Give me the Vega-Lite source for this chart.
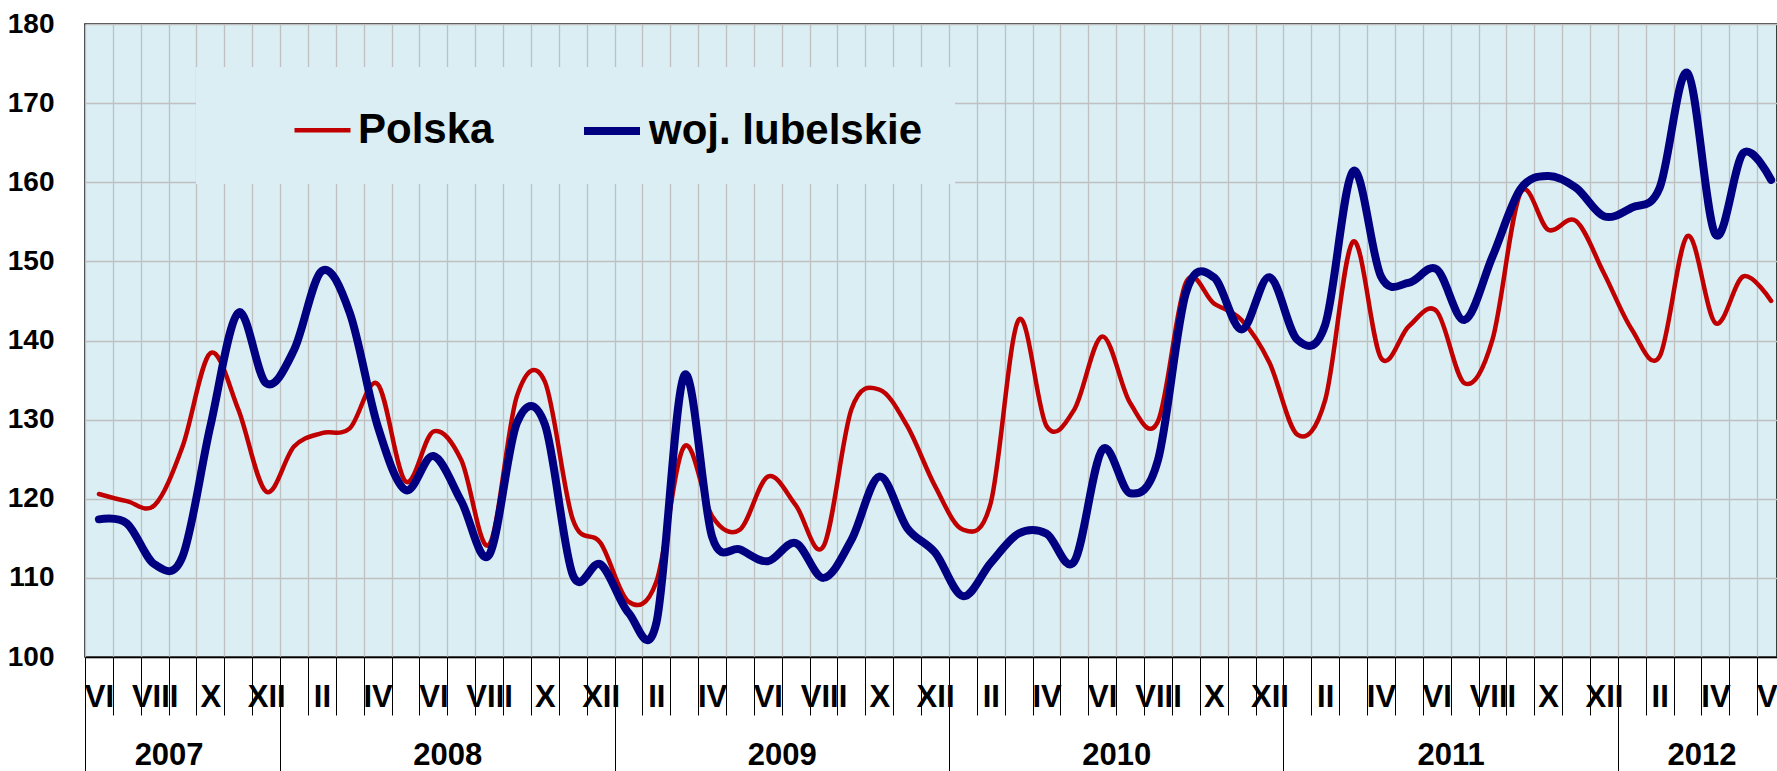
{
  "$schema": "https://vega.github.io/schema/vega-lite/v6.json",
  "width": 1692,
  "height": 633,
  "autosize": "none",
  "padding": {"left": 85, "top": 24, "right": 0, "bottom": 114},
  "background": "#FFFFFF",
  "config": {
    "view": {"fill": "#DAEEF3", "stroke": "#000000", "strokeWidth": 1.5},
    "font": "Liberation Sans"
  },
  "data": {
    "values": [
      {"i":0,"s":"Polska","v":120.6},{"i":1,"s":"Polska","v":119.7},{"i":2,"s":"Polska","v":119.2},{"i":3,"s":"Polska","v":126.6},{"i":4,"s":"Polska","v":138.4},{"i":5,"s":"Polska","v":131.3},{"i":6,"s":"Polska","v":120.9},{"i":7,"s":"Polska","v":126.6},{"i":8,"s":"Polska","v":128.3},{"i":9,"s":"Polska","v":128.9},
      {"i":10,"s":"Polska","v":134.5},{"i":11,"s":"Polska","v":122.2},{"i":12,"s":"Polska","v":128.5},{"i":13,"s":"Polska","v":124.9},{"i":14,"s":"Polska","v":114.2},{"i":15,"s":"Polska","v":133.0},{"i":16,"s":"Polska","v":134.8},{"i":17,"s":"Polska","v":117.4},{"i":18,"s":"Polska","v":114.4},{"i":19,"s":"Polska","v":107.0},
      {"i":20,"s":"Polska","v":109.5},{"i":21,"s":"Polska","v":126.6},{"i":22,"s":"Polska","v":117.8},{"i":23,"s":"Polska","v":116.1},{"i":24,"s":"Polska","v":122.8},{"i":25,"s":"Polska","v":119.2},{"i":26,"s":"Polska","v":114.0},{"i":27,"s":"Polska","v":131.3},{"i":28,"s":"Polska","v":133.8},{"i":29,"s":"Polska","v":129.2},
      {"i":30,"s":"Polska","v":121.6},{"i":31,"s":"Polska","v":116.1},{"i":32,"s":"Polska","v":119.5},{"i":33,"s":"Polska","v":142.6},{"i":34,"s":"Polska","v":129.2},{"i":35,"s":"Polska","v":131.3},{"i":36,"s":"Polska","v":140.5},{"i":37,"s":"Polska","v":132.1},{"i":38,"s":"Polska","v":129.8},{"i":39,"s":"Polska","v":147.3},
      {"i":40,"s":"Polska","v":144.7},{"i":41,"s":"Polska","v":142.6},{"i":42,"s":"Polska","v":137.2},{"i":43,"s":"Polska","v":128.1},{"i":44,"s":"Polska","v":132.5},{"i":45,"s":"Polska","v":152.5},{"i":46,"s":"Polska","v":137.8},{"i":47,"s":"Polska","v":141.8},{"i":48,"s":"Polska","v":143.7},{"i":49,"s":"Polska","v":134.6},
      {"i":50,"s":"Polska","v":140.1},{"i":51,"s":"Polska","v":158.6},{"i":52,"s":"Polska","v":154.0},{"i":53,"s":"Polska","v":155.1},{"i":54,"s":"Polska","v":148.5},{"i":55,"s":"Polska","v":141.4},{"i":56,"s":"Polska","v":138.0},{"i":57,"s":"Polska","v":153.2},{"i":58,"s":"Polska","v":142.2},{"i":59,"s":"Polska","v":148.1},
      {"i":60,"s":"Polska","v":145.0},
      {"i":0,"s":"woj. lubelskie","v":117.4},{"i":1,"s":"woj. lubelskie","v":116.9},{"i":2,"s":"woj. lubelskie","v":111.7},{"i":3,"s":"woj. lubelskie","v":112.7},{"i":4,"s":"woj. lubelskie","v":129.2},{"i":5,"s":"woj. lubelskie","v":143.5},{"i":6,"s":"woj. lubelskie","v":134.6},{"i":7,"s":"woj. lubelskie","v":138.8},{"i":8,"s":"woj. lubelskie","v":148.8},{"i":9,"s":"woj. lubelskie","v":143.5},
      {"i":10,"s":"woj. lubelskie","v":129.2},{"i":11,"s":"woj. lubelskie","v":121.1},{"i":12,"s":"woj. lubelskie","v":125.4},{"i":13,"s":"woj. lubelskie","v":119.7},{"i":14,"s":"woj. lubelskie","v":112.9},{"i":15,"s":"woj. lubelskie","v":129.6},{"i":16,"s":"woj. lubelskie","v":129.4},{"i":17,"s":"woj. lubelskie","v":110.4},{"i":18,"s":"woj. lubelskie","v":111.7},{"i":19,"s":"woj. lubelskie","v":105.6},
      {"i":20,"s":"woj. lubelskie","v":104.3},{"i":21,"s":"woj. lubelskie","v":135.6},{"i":22,"s":"woj. lubelskie","v":115.2},{"i":23,"s":"woj. lubelskie","v":113.6},{"i":24,"s":"woj. lubelskie","v":112.1},{"i":25,"s":"woj. lubelskie","v":114.4},{"i":26,"s":"woj. lubelskie","v":110.0},{"i":27,"s":"woj. lubelskie","v":114.8},{"i":28,"s":"woj. lubelskie","v":122.8},{"i":29,"s":"woj. lubelskie","v":116.3},
      {"i":30,"s":"woj. lubelskie","v":113.2},{"i":31,"s":"woj. lubelskie","v":107.7},{"i":32,"s":"woj. lubelskie","v":111.9},{"i":33,"s":"woj. lubelskie","v":115.6},{"i":34,"s":"woj. lubelskie","v":115.6},{"i":35,"s":"woj. lubelskie","v":112.1},{"i":36,"s":"woj. lubelskie","v":126.2},{"i":37,"s":"woj. lubelskie","v":120.7},{"i":38,"s":"woj. lubelskie","v":124.9},{"i":39,"s":"woj. lubelskie","v":146.0},
      {"i":40,"s":"woj. lubelskie","v":148.0},{"i":41,"s":"woj. lubelskie","v":141.4},{"i":42,"s":"woj. lubelskie","v":148.0},{"i":43,"s":"woj. lubelskie","v":140.1},{"i":44,"s":"woj. lubelskie","v":142.0},{"i":45,"s":"woj. lubelskie","v":161.4},{"i":46,"s":"woj. lubelskie","v":148.1},{"i":47,"s":"woj. lubelskie","v":147.3},{"i":48,"s":"woj. lubelskie","v":149.0},{"i":49,"s":"woj. lubelskie","v":142.6},
      {"i":50,"s":"woj. lubelskie","v":150.6},{"i":51,"s":"woj. lubelskie","v":159.1},{"i":52,"s":"woj. lubelskie","v":160.8},{"i":53,"s":"woj. lubelskie","v":159.3},{"i":54,"s":"woj. lubelskie","v":155.7},{"i":55,"s":"woj. lubelskie","v":156.8},{"i":56,"s":"woj. lubelskie","v":159.3},{"i":57,"s":"woj. lubelskie","v":173.8},{"i":58,"s":"woj. lubelskie","v":153.4},{"i":59,"s":"woj. lubelskie","v":163.7},
      {"i":60,"s":"woj. lubelskie","v":160.3}
    ]
  },
  "layer": [
    {
      "mark": {"type": "line", "interpolate": "cardinal", "strokeCap": "round", "strokeJoin": "round"},
      "encoding": {
        "x": {
          "field": "i", "type": "quantitative",
          "scale": {"domain": [-0.5, 60.21], "nice": false, "zero": false},
          "axis": {
            "orient": "bottom", "title": null, "labels": false,
            "values": [-0.5,0.5,1.5,2.5,3.5,4.5,5.5,6.5,7.5,8.5,9.5,10.5,11.5,12.5,13.5,14.5,15.5,16.5,17.5,18.5,19.5,20.5,21.5,22.5,23.5,24.5,25.5,26.5,27.5,28.5,29.5,30.5,31.5,32.5,33.5,34.5,35.5,36.5,37.5,38.5,39.5,40.5,41.5,42.5,43.5,44.5,45.5,46.5,47.5,48.5,49.5,50.5,51.5,52.5,53.5,54.5,55.5,56.5,57.5,58.5,59.5],
            "grid": true, "gridColor": "#C0C0C0", "gridWidth": 1.3,
            "ticks": true, "tickColor": "#000000", "tickWidth": 1,
            "tickSize": {"condition": {"test": "indexof([-0.5,6.5,18.5,30.5,42.5,54.5], datum.value) >= 0", "value": 114}, "value": 58},
            "domain": true, "domainColor": "#000000", "domainWidth": 1.5
          }
        },
        "y": {
          "field": "v", "type": "quantitative",
          "scale": {"domain": [100, 180], "nice": false, "zero": false},
          "axis": {
            "title": null, "values": [100,110,120,130,140,150,160,170,180],
            "grid": true, "gridColor": "#C0C0C0", "gridWidth": 1.3,
            "ticks": false, "domain": false,
            "labelFont": "Liberation Sans Narrow, Liberation Sans", "labelFontSize": 28, "labelFontWeight": "bold",
            "labelColor": "#000000", "labelPadding": 31
          }
        },
        "color": {
          "field": "s", "type": "nominal",
          "scale": {"domain": ["Polska", "woj. lubelskie"], "range": ["#C00000", "#000080"]},
          "legend": {
            "title": null, "orient": "none", "legendX": 111, "legendY": 43,
            "direction": "horizontal", "symbolType": "stroke", "symbolSize": 3136,
            "symbolOffset": 64, "labelOffset": 5, "columnPadding": 22, "padding": 32,
            "fillColor": "#DAEEF3", "strokeColor": null,
            "labelFont": "Liberation Sans", "labelFontSize": 42, "labelFontWeight": "bold",
            "labelColor": "#000000", "labelLimit": 0
          }
        },
        "strokeWidth": {
          "field": "s", "type": "nominal",
          "scale": {"domain": ["Polska", "woj. lubelskie"], "range": [4.5, 8]}
        }
      }
    },
    {
      "mark": {"type": "point", "opacity": 0},
      "encoding": {
        "x": {
          "field": "i", "type": "quantitative",
          "axis": {
            "orient": "bottom", "title": null,
            "values": [0,2,4,6,8,10,12,14,16,18,20,22,24,26,28,30,32,34,36,38,40,42,44,46,48,50,52,54,56,58,60,2.5,12.5,24.5,36.5,48.5,57.5],
            "labelExpr": "datum.value % 1 == 0 ? ['I','II','III','IV','V','VI','VII','VIII','IX','X','XI','XII'][(datum.value + 5) % 12] : '' + (2007 + floor((datum.value + 5) / 12))",
            "ticks": false, "domain": false, "grid": false,
            "labelPadding": {"condition": {"test": "datum.value % 1 != 0", "value": 98}, "value": 40},
            "labelBaseline": "middle",
            "labelFont": "Liberation Sans Narrow, Liberation Sans", "labelFontSize": 31, "labelFontWeight": "bold",
            "labelColor": "#000000",
            "labelOverlap": false, "labelFlush": false, "labelBound": false
          }
        },
        "y": {"field": "v", "type": "quantitative"}
      }
    }
  ],
  "resolve": {"axis": {"x": "independent"}}
}
